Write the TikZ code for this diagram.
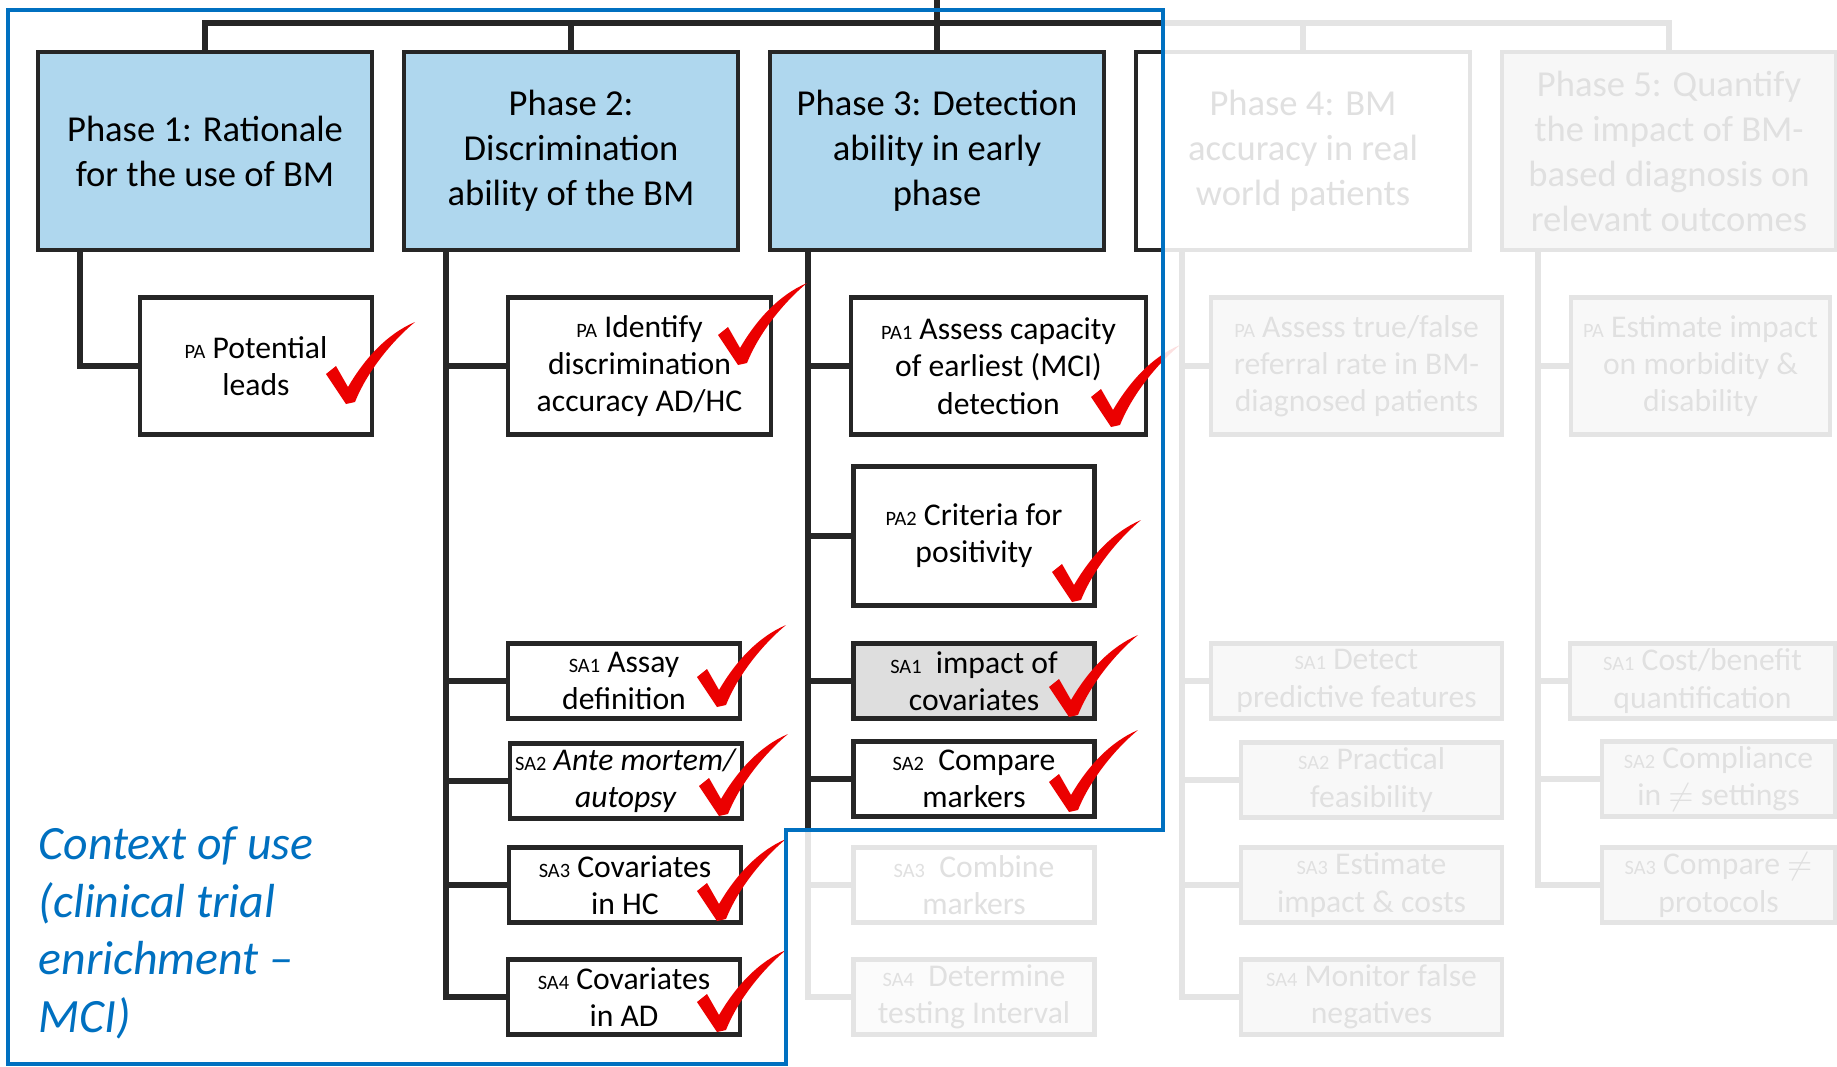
\documentclass[tikz,border=0pt]{standalone}
\usepackage{fontspec}
\setmainfont{Carlito}
\usepackage{tikz}
\usetikzlibrary{calc,positioning}

\definecolor{phaseblue}{RGB}{175,215,238}
\definecolor{boxline}{RGB}{38,38,38}
\definecolor{frameblue}{RGB}{0,112,192}
\definecolor{tickred}{RGB}{235,0,0}

\newcommand{\idx}[1]{{\fontsize{5.8}{6}\selectfont #1}}
\newcommand{\okmark}[1]{%
  \fill[tickred, shift={(#1)}] (-23,-26) -- (-13,-34) -- (-1,-13)
    .. controls (16,-42) and (38,-66) .. (66,-78)
    .. controls (42,-58) and (18,-28) .. (6,2) -- (-3,4) -- cycle;}

\begin{document}
\begin{tikzpicture}[x=0.01cm, y=-0.01cm,
    phasebox/.style={draw=boxline, line width=1.3pt, fill=phaseblue,
      minimum width=3.34cm, minimum height=1.98cm, align=center,
      font=\fontsize{10.4}{12.8}\selectfont},
    taskbox/.style={draw=boxline, line width=1.3pt, fill=white, align=center,
      inner sep=0pt, font=\fontsize{9}{10.6}\selectfont},
    tallbox/.style={taskbox, minimum height=1.37cm},
    lowbox/.style={taskbox, minimum height=0.75cm},
    wire/.style={draw=boxline, line width=1.9pt},
    ctxtext/.style={text=frameblue, align=left, inner sep=0pt,
      font=\fontsize{13.6}{16.4}\selectfont\itshape}]

      \useasboundingbox (0,0) rectangle (1837,1066);

      \node[phasebox] (ph1) at (205,151) {Phase 1: Rationale\\for the use of BM};
      \node[phasebox] (ph2) at (571,151) {Phase 2:\\Discrimination\\ability of the BM};
      \node[phasebox] (ph3) at (937,151) {Phase 3: Detection\\ability in early\\phase};
      \node[phasebox, fill=white] (ph4) at (1303,151) {Phase 4: BM\\accuracy in real\\world patients};
      \node[phasebox, fill=black!25] (ph5) at (1669,151) {Phase 5: Quantify\\the impact of BM-\\based diagnosis on\\relevant outcomes};

      \coordinate (root) at (937,0);
      \coordinate (bus) at (0,23);

      \draw[wire] (ph1.north) -- (ph1.north |- bus) -- (ph5.north |- bus) -- (ph5.north);
      \path[wire]
      (ph2.north |- bus) edge (ph2.north)
      (ph3.north |- bus) edge (ph3.north)
      (ph4.north |- bus) edge (ph4.north)
      (root) edge (ph3.north |- bus) ;

      \node[tallbox, minimum width=2.32cm] (p1pa) at (256,366) {\idx{PA} Potential\\leads};

      \node[tallbox, minimum width=2.63cm] (p2pa) at (639.5,366) {\idx{PA} Identify\\discrimination\\accuracy AD/HC};
      \node[lowbox, minimum width=2.32cm] (p2sa1) at (624,681) {\idx{SA1} Assay\\definition};
      \node[lowbox, minimum width=2.32cm] (p2sa2) at (626,781) {\idx{SA2} \textit{Ante mortem/}\\\textit{autopsy}};
      \node[lowbox, minimum width=2.32cm] (p2sa3) at (625,885) {\idx{SA3} Covariates\\in HC};
      \node[lowbox, minimum width=2.32cm] (p2sa4) at (624,997) {\idx{SA4} Covariates\\in AD};

      \node[tallbox, minimum width=2.95cm] (p3pa1) at (998.5,366) {\idx{PA1} Assess capacity\\of earliest (MCI)\\detection};
      \node[tallbox, minimum width=2.41cm, minimum height=1.39cm] (p3pa2) at (974,536) {\idx{PA2} Criteria for\\positivity};
      \node[lowbox, minimum width=2.41cm, fill=black!13] (p3sa1) at (974,681) {\idx{SA1}~\ impact of\\covariates};
      \node[lowbox, minimum width=2.41cm] (p3sa2) at (974,779) {\idx{SA2}~ Compare\\markers};
      \node[lowbox, minimum width=2.41cm] (p3sa3) at (974,885) {\idx{SA3}~ Combine\\markers};
      \node[lowbox, minimum width=2.41cm, fill=black!12] (p3sa4) at (974,997) {\idx{SA4}~ Determine\\testing Interval};

      \node[tallbox, minimum width=2.91cm, fill=black!20] (p4pa) at (1356.5,366) {\idx{PA} Assess true/false\\referral rate in BM-\\diagnosed patients};
      \node[lowbox, minimum width=2.91cm, fill=black!20] (p4sa1) at (1356.5,681) {\idx{SA1} Detect\\predictive features};
      \node[lowbox, minimum width=2.61cm, fill=black!20] (p4sa2) at (1371.5,780) {\idx{SA2} Practical\\feasibility};
      \node[lowbox, minimum width=2.61cm, fill=black!20] (p4sa3) at (1371.5,885) {\idx{SA3} Estimate\\impact \& costs};
      \node[lowbox, minimum width=2.61cm, fill=black!20] (p4sa4) at (1371.5,997) {\idx{SA4} Monitor false\\negatives};

      \node[tallbox, minimum width=2.59cm, fill=black!20] (p5pa) at (1700.5,366) {\idx{PA} Estimate impact\\on morbidity \&\\disability};
      \node[lowbox, minimum width=2.65cm, fill=black!20] (p5sa1) at (1702.5,681) {\idx{SA1} Cost/benefit\\quantification};
      \node[lowbox, minimum width=2.33cm, fill=black!20] (p5sa2) at (1718.5,779) {\idx{SA2} Compliance\\in $\neq$ settings};
      \node[lowbox, minimum width=2.33cm, fill=black!20] (p5sa3) at (1718.5,885) {\idx{SA3} Compare $\neq$\\protocols};

      \coordinate (t1) at (80,0 |- ph1.south);
      \coordinate (t2) at (446,0 |- ph2.south);
      \coordinate (t3) at (808,0 |- ph3.south);
      \coordinate (t4) at (1182,0 |- ph4.south);
      \coordinate (t5) at (1538,0 |- ph5.south);

      \draw[wire] (t1) |- (p1pa.west);

      \draw[wire] (t2) |- (p2sa4.west);
      \path[wire]
      (t2 |- p2pa.west) edge (p2pa.west)
      (t2 |- p2sa1.west) edge (p2sa1.west)
      (t2 |- p2sa2.west) edge (p2sa2.west)
      (t2 |- p2sa3.west) edge (p2sa3.west) ;

      \draw[wire] (t3) |- (p3sa4.west);
      \path[wire]
      (t3 |- p3pa1.west) edge (p3pa1.west)
      (t3 |- p3pa2.west) edge (p3pa2.west)
      (t3 |- p3sa1.west) edge (p3sa1.west)
      (t3 |- p3sa2.west) edge (p3sa2.west)
      (t3 |- p3sa3.west) edge (p3sa3.west) ;

      \draw[wire] (t4) |- (p4sa4.west);
      \path[wire]
      (t4 |- p4pa.west) edge (p4pa.west)
      (t4 |- p4sa1.west) edge (p4sa1.west)
      (t4 |- p4sa2.west) edge (p4sa2.west)
      (t4 |- p4sa3.west) edge (p4sa3.west) ;

      \draw[wire] (t5) |- (p5sa3.west);
      \path[wire]
      (t5 |- p5pa.west) edge (p5pa.west)
      (t5 |- p5sa1.west) edge (p5sa1.west)
      (t5 |- p5sa2.west) edge (p5sa2.west) ;

      \okmark{349,400}
      \okmark{741,361}
      \okmark{720,703}
      \okmark{722,812}
      \okmark{720,917}
      \okmark{720,1028}
      \okmark{1114,423}
      \okmark{1075,598}
      \okmark{1072,713}
      \okmark{1072,808}

      \fill[white, opacity=0.88] (1163,0) -- (1837,0) -- (1837,1066) -- (786,1066) -- (786,830) -- (1163,830) -- cycle;

      \draw[frameblue, line width=1.05pt] (8,10) -- (1163,10) -- (1163,830) -- (786,830) -- (786,1064) -- (8,1064) -- cycle;

      \node[ctxtext, anchor=west] (ctx) at (38,933) {Context of use\\(clinical trial\\enrichment --\\MCI)};

    \end{tikzpicture}
\end{document}
